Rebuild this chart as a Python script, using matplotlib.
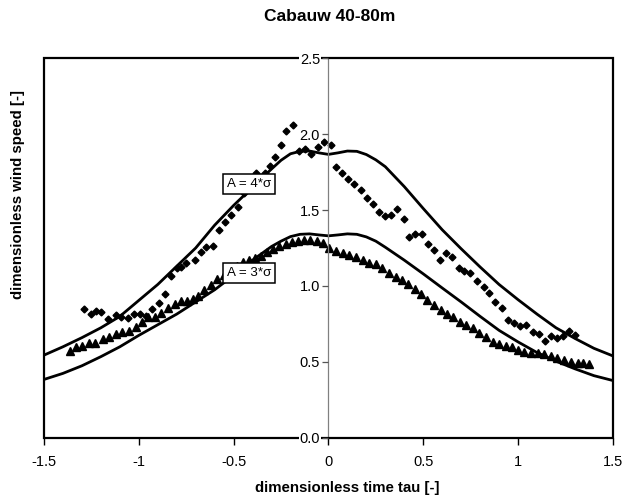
import matplotlib
matplotlib.use('Agg')
import matplotlib.pyplot as plt
from matplotlib.patches import Rectangle

plt.rcParams['font.family'] = ['Liberation Sans', 'DejaVu Sans']

# Model curves for two gust amplitudes
tau_fit = [-1.5, -1.4, -1.3, -1.2, -1.1, -1.0, -0.9, -0.8, -0.7, -0.6, -0.5, -0.4,
           -0.3, -0.25, -0.2, -0.15, -0.1, -0.05, 0.0, 0.05, 0.1, 0.15, 0.2, 0.25,
           0.3, 0.4, 0.5, 0.6, 0.7, 0.8, 0.9, 1.0, 1.1, 1.2, 1.3, 1.4, 1.5]
fit_4sigma = [0.545, 0.60, 0.66, 0.725, 0.80, 0.905, 1.01, 1.13, 1.25, 1.40, 1.53, 1.65,
              1.77, 1.827, 1.87, 1.886, 1.888, 1.876, 1.866, 1.876, 1.888, 1.886, 1.865, 1.83,
              1.785, 1.654, 1.51, 1.37, 1.245, 1.125, 1.01, 0.91, 0.815, 0.725, 0.655, 0.59, 0.54]
fit_3sigma = [0.385, 0.425, 0.475, 0.535, 0.60, 0.675, 0.745, 0.815, 0.895, 0.975, 1.07, 1.17,
              1.26, 1.295, 1.325, 1.34, 1.343, 1.336, 1.33, 1.336, 1.343, 1.34, 1.323, 1.295,
              1.255, 1.17, 1.08, 0.987, 0.895, 0.80, 0.708, 0.632, 0.562, 0.505, 0.455, 0.41, 0.378]

# Measured composite gusts, 4 sigma class
tau_4 = [-1.289, -1.254, -1.227, -1.198, -1.162, -1.121, -1.095, -1.056, -1.025, -0.995,
         -0.963, -0.928, -0.896, -0.863, -0.831, -0.801, -0.775, -0.749, -0.705, -0.670,
         -0.643, -0.609, -0.575, -0.545, -0.514, -0.478, -0.445, -0.412, -0.380, -0.336,
         -0.309, -0.283, -0.248, -0.222, -0.187, -0.155, -0.125, -0.090, -0.055, -0.024,
         0.012, 0.040, 0.070, 0.105, 0.136, 0.171, 0.203, 0.236, 0.268, 0.298,
         0.329, 0.361, 0.396, 0.426, 0.458, 0.493, 0.523, 0.558, 0.590, 0.619,
         0.651, 0.686, 0.717, 0.749, 0.784, 0.818, 0.849, 0.881, 0.914, 0.946,
         0.977, 1.011, 1.043, 1.077, 1.109, 1.141, 1.174, 1.206, 1.238, 1.271, 1.302]
wind_4 = [0.847, 0.816, 0.836, 0.831, 0.781, 0.807, 0.798, 0.789, 0.816, 0.816,
          0.805, 0.851, 0.890, 0.945, 1.066, 1.120, 1.127, 1.149, 1.171, 1.226,
          1.259, 1.265, 1.370, 1.420, 1.470, 1.518, 1.615, 1.665, 1.741, 1.741,
          1.790, 1.851, 1.928, 2.022, 2.059, 1.890, 1.900, 1.868, 1.912, 1.949,
          1.928, 1.785, 1.745, 1.702, 1.671, 1.632, 1.577, 1.539, 1.489, 1.461,
          1.465, 1.505, 1.439, 1.320, 1.340, 1.340, 1.276, 1.237, 1.171, 1.215,
          1.189, 1.116, 1.098, 1.083, 1.035, 0.991, 0.952, 0.897, 0.853, 0.776,
          0.754, 0.737, 0.743, 0.699, 0.684, 0.640, 0.671, 0.660, 0.671, 0.706, 0.678]

# Measured composite gusts, 3 sigma class
tau_3 = [-1.362, -1.332, -1.299, -1.264, -1.232, -1.191, -1.157, -1.121, -1.086, -1.051,
         -1.016, -0.981, -0.951, -0.916, -0.881, -0.846, -0.810, -0.779, -0.745, -0.714,
         -0.688, -0.655, -0.620, -0.585, -0.552, -0.518, -0.484, -0.450, -0.420, -0.389,
         -0.356, -0.324, -0.291, -0.258, -0.226, -0.193, -0.160, -0.128, -0.095, -0.062,
         -0.030, 0.005, 0.040, 0.075, 0.110, 0.145, 0.180, 0.215, 0.250, 0.285,
         0.321, 0.356, 0.386, 0.422, 0.455, 0.490, 0.522, 0.557, 0.592, 0.624,
         0.659, 0.694, 0.726, 0.761, 0.796, 0.831, 0.866, 0.901, 0.936, 0.966,
         1.001, 1.033, 1.068, 1.103, 1.138, 1.173, 1.208, 1.243, 1.279, 1.314, 1.345, 1.375]
wind_3 = [0.575, 0.597, 0.607, 0.623, 0.627, 0.651, 0.662, 0.684, 0.695, 0.706,
          0.732, 0.765, 0.794, 0.798, 0.824, 0.853, 0.882, 0.903, 0.903, 0.914,
          0.934, 0.975, 1.005, 1.045, 1.075, 1.100, 1.130, 1.160, 1.170, 1.182,
          1.200, 1.222, 1.245, 1.265, 1.279, 1.288, 1.298, 1.302, 1.303, 1.298,
          1.282, 1.252, 1.232, 1.219, 1.204, 1.189, 1.171, 1.154, 1.145, 1.116,
          1.088, 1.061, 1.039, 1.011, 0.978, 0.947, 0.908, 0.875, 0.842, 0.816,
          0.794, 0.765, 0.743, 0.721, 0.693, 0.667, 0.634, 0.618, 0.607, 0.601,
          0.579, 0.568, 0.561, 0.557, 0.553, 0.540, 0.524, 0.513, 0.502, 0.496, 0.491, 0.487]

x_ticks = [-1.5, -1, -0.5, 0, 0.5, 1, 1.5]
x_tick_labels = ['-1.5', '-1', '-0.5', '0', '0.5', '1', '1.5']
y_ticks = [0.0, 0.5, 1.0, 1.5, 2.0, 2.5]

fig = plt.figure(figsize=(6.3, 4.96), dpi=100)
ax = fig.add_axes([0.0698, 0.117, 0.903, 0.766])

ax.plot(tau_fit, fit_4sigma, color='black', lw=2.0, zorder=2)
ax.plot(tau_fit, fit_3sigma, color='black', lw=2.0, zorder=2)
ax.plot(tau_4, wind_4, 'D', color='black', ms=3.5, mec='black', zorder=2.2)
ax.plot(tau_3, wind_3, '^', color='black', ms=5.3, mec='black', zorder=2.2)

ax.set_xlim(-1.5, 1.5)
ax.set_ylim(0, 2.5)

# y axis sits on tau = 0, the outer frame is drawn separately
for side in ['top', 'right', 'bottom']:
    ax.spines[side].set_visible(False)
ax.spines['left'].set_position(('data', 0))
ax.spines['left'].set_color('#808080')
ax.spines['left'].set_linewidth(0.9)
ax.add_patch(Rectangle((0, 0), 1, 1, transform=ax.transAxes, fill=False,
                       ec='black', lw=1.6, zorder=2.6, clip_on=False))

ax.set_xticks(x_ticks)
ax.set_xticklabels(x_tick_labels)
ax.set_yticks(y_ticks)
ax.set_yticklabels(['%.1f' % v for v in y_ticks])
ax.tick_params(axis='x', direction='out', length=5, width=1.0, pad=7, labelsize=10.5)
ax.tick_params(axis='y', direction='out', length=4, width=0.9, color='#555555',
               pad=2, labelsize=10.5)
ax.yaxis.set_zorder(3)
for lab in ax.get_yticklabels():
    lab.set_bbox(dict(fc='white', ec='none', pad=0.5))

ax.set_xlabel('dimensionless time tau [-]', fontsize=10.8, fontweight='bold')
ax.xaxis.label.set_va('center')
ax.xaxis.set_label_coords(0.5335, -0.132)
ax.set_ylabel('dimensionless wind speed [-]', fontsize=10.8, fontweight='bold')
ax.yaxis.label.set_va('center')
ax.yaxis.set_label_coords(-0.045, 0.64)

fig.text(0.524, 0.967, 'Cabauw 40-80m', ha='center', va='center',
         fontsize=12.5, fontweight='bold')

box = dict(boxstyle='square,pad=0.3', fc='white', ec='black', lw=1.1)
ax.text(-0.418, 1.672, 'A = 4*σ', ha='center', va='center', fontsize=9.6, bbox=box, zorder=5)
ax.text(-0.418, 1.088, 'A = 3*σ', ha='center', va='center', fontsize=9.6, bbox=box, zorder=5)

fig.savefig('out.png', dpi=100)
